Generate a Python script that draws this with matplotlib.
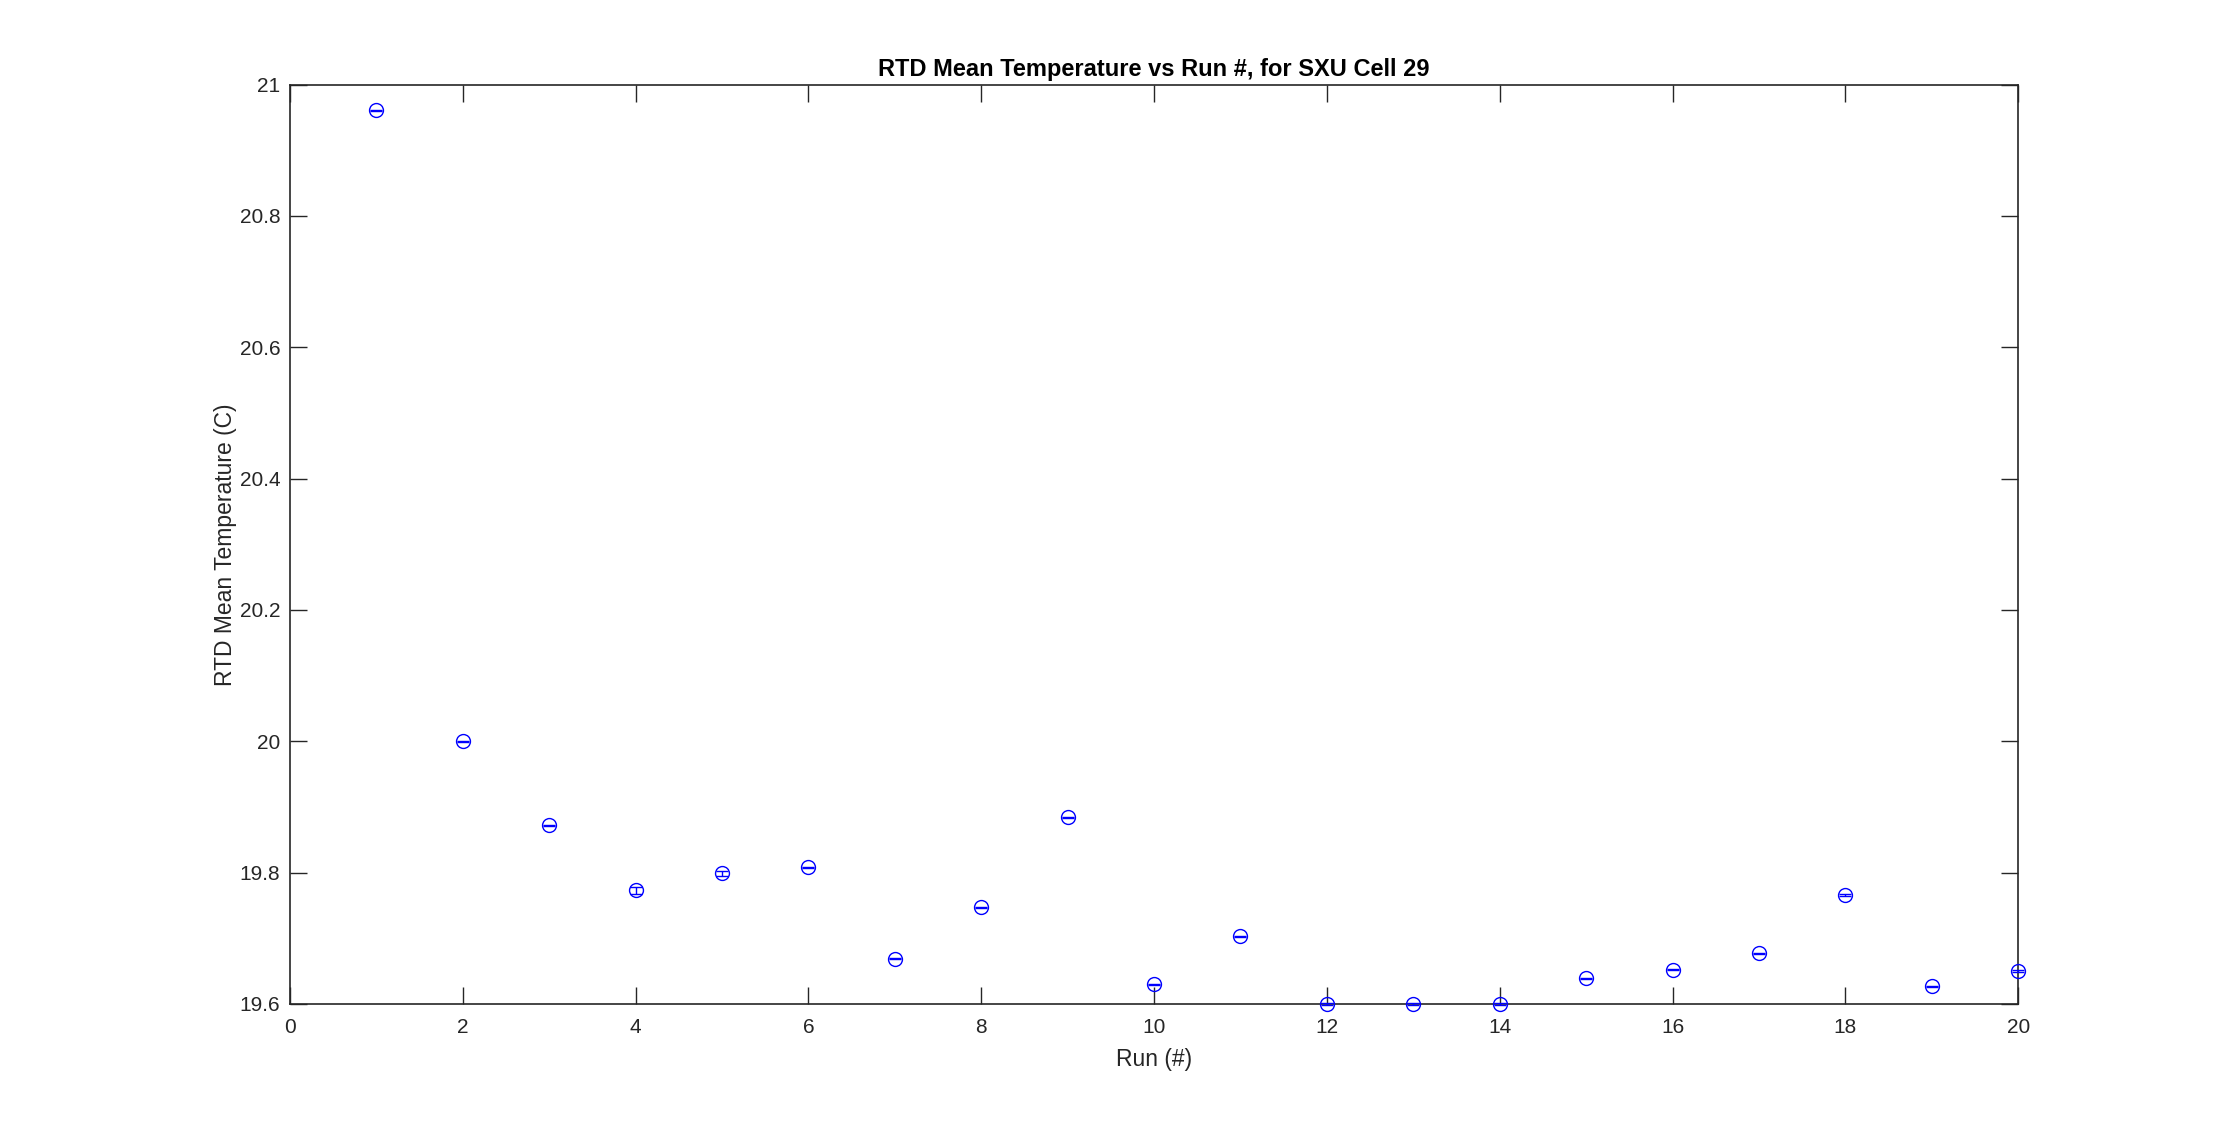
import numpy as np
import matplotlib.pyplot as plt

# RTD mean temperature per run
runs = [1, 2, 3, 4, 5, 6, 7, 8, 9, 10, 11, 12, 13, 14, 15, 16, 17, 18, 19, 20]
mean_temp = [20.961, 20.000, 19.872, 19.773, 19.799, 19.808, 19.669, 19.747,
             19.884, 19.630, 19.703, 19.600, 19.600, 19.600, 19.639, 19.652,
             19.677, 19.766, 19.627, 19.650]
temp_err = [0.001, 0.001, 0.001, 0.005, 0.004, 0.001, 0.001, 0.001, 0.001, 0.001,
            0.001, 0.002, 0.001, 0.002, 0.001, 0.001, 0.001, 0.001, 0.001, 0.002]

plt.rcParams['font.family'] = ['Liberation Sans', 'DejaVu Sans']
AX_COLOR = '#262626'

fig = plt.figure(figsize=(22.3, 11.28), dpi=100)
ax = fig.add_axes([0.13, 0.11, 0.775, 0.815])

ax.errorbar(runs, mean_temp, yerr=temp_err, fmt='o', color='#0000ff',
            mfc='none', mec='#0000ff', ms=10, mew=1.0, elinewidth=1.0,
            capsize=4.6, capthick=1.0, clip_on=False, zorder=3)

ax.set_xlim(0, 20)
ax.set_ylim(19.6, 21)
ax.set_xticks(np.arange(0, 21, 2))
ax.set_yticks([19.6, 19.8, 20, 20.2, 20.4, 20.6, 20.8, 21])
ax.set_yticklabels(['19.6', '19.8', '20', '20.2', '20.4', '20.6', '20.8', '21'])

ax.tick_params(direction='in', length=12, width=1.0, colors=AX_COLOR,
               labelsize=15, top=True, right=True, pad=10)
ax.tick_params(axis='y', pad=7)
for sp in ax.spines.values():
    sp.set_color(AX_COLOR)
    sp.set_linewidth(1.2)

ax.set_title('RTD Mean Temperature vs Run #, for SXU Cell 29',
             fontsize=17, fontweight='bold', color='black', pad=6)
ax.set_xlabel('Run (#)', fontsize=16.5, color=AX_COLOR, labelpad=8)
ax.set_ylabel('RTD Mean Temperature (C)', fontsize=16.5, color=AX_COLOR, labelpad=2)

fig.savefig('out.png', dpi=100, facecolor='white')
